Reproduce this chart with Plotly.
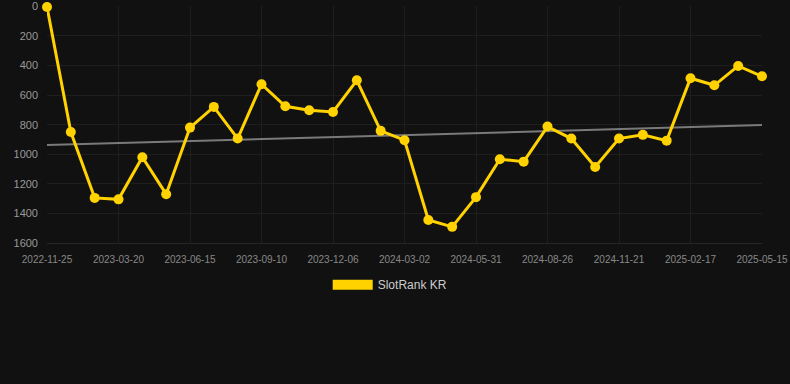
import plotly.graph_objects as go

dates = [
    "2022-11-25", "2022-12-24", "2023-02-19", "2023-03-20", "2023-04-18", "2023-05-17",
    "2023-06-15", "2023-07-14", "2023-08-12", "2023-09-10", "2023-10-09", "2023-11-07",
    "2023-12-06", "2024-01-04", "2024-02-02", "2024-03-02", "2024-03-31", "2024-05-01",
    "2024-05-31", "2024-06-29", "2024-07-28", "2024-08-26", "2024-09-24", "2024-10-23",
    "2024-11-21", "2024-12-20", "2025-01-18", "2025-02-17", "2025-03-18", "2025-04-16",
    "2025-05-15",
]
rank = [
    5, 850, 1295, 1305, 1020, 1270,
    820, 680, 894, 527, 676, 703,
    714, 500, 842, 905, 1444, 1491,
    1290, 1034, 1050, 813, 894, 1086,
    894, 869, 908, 486, 534, 403,
    473,
]
trend = [938, 803]
tick_labels = dates[::3]
series_name = "SlotRank KR"

gold = "#FFD200"
fig = go.Figure()
fig.add_trace(go.Scatter(
    x=dates, y=rank, mode="lines+markers",
    line=dict(color=gold, width=3), marker=dict(color=gold, size=10),
    showlegend=False, cliponaxis=False, name=series_name,
))
fig.add_trace(go.Scatter(
    x=[dates[0], dates[-1]], y=trend, mode="lines",
    line=dict(color="#7a7a7a", width=2), showlegend=False, hoverinfo="skip",
))
fig.add_trace(go.Scatter(
    x=[None], y=[None], mode="lines", line=dict(color=gold, width=11),
    name=series_name, showlegend=True,
))
# draw the gold series above the trend line
fig.data = (fig.data[1], fig.data[0], fig.data[2])
fig.update_layout(
    width=790, height=384,
    paper_bgcolor="#111111", plot_bgcolor="#111111",
    margin=dict(l=47, r=28, t=6, b=141),
    font=dict(family="Liberation Sans, Arial, sans-serif"),
    showlegend=True,
    legend=dict(orientation="h", x=0.48, xanchor="center", y=-0.115, yanchor="top",
                font=dict(color="#cccccc", size=12), itemwidth=40,
                bgcolor="rgba(0,0,0,0)"),
)
fig.update_xaxes(
    type="category", categoryorder="array", categoryarray=dates,
    range=[0, len(dates) - 1], tickmode="array",
    tickvals=tick_labels, ticktext=tick_labels, automargin=False,
    showgrid=True, gridcolor="#1e1e1e", gridwidth=1,
    tickfont=dict(color="#888888", size=10), zeroline=False,
    showline=True, linecolor="#262626", ticks="", ticklabelstandoff=7,
)
fig.update_yaxes(
    range=[1600, -2], tickvals=[0, 200, 400, 600, 800, 1000, 1200, 1400, 1600],
    showgrid=True, gridcolor="#1e1e1e", gridwidth=1, zeroline=False, automargin=False,
    tickfont=dict(color="#999999", size=11), ticks="", ticklabelstandoff=8,
)
fig.write_html("out.html", config={"displayModeBar": False},
               post_script="document.body.style.margin='0';document.body.style.background='#111111';")
